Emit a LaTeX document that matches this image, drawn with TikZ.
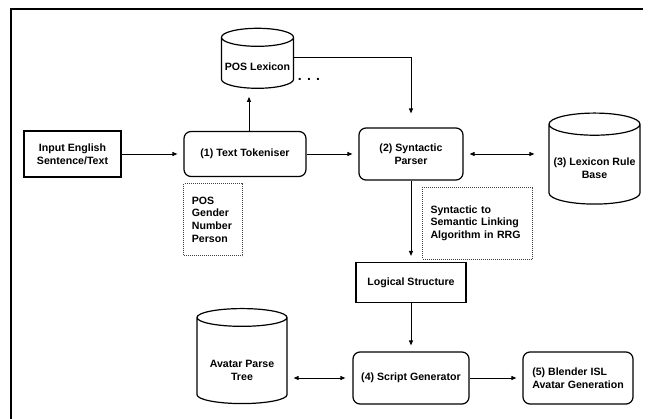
\documentclass[tikz,border=0pt]{standalone}
\usepackage{fontspec}
\setmainfont{Liberation Sans}
\usetikzlibrary{arrows.meta, positioning, shapes.geometric}

% text of a cylinder, set lower than its centre
\newcommand{\droptext}[2]{\raisebox{-#1}[\height][\depth]{\begin{tabular}{@{}c@{}}#2\end{tabular}}}

\tikzset{
  every node/.style = {font = \bfseries\fontsize{10.6}{12.6}\selectfont, text = black},
  block/.style = {draw, line width = 1.2pt, align = center, inner sep = 2pt},
  proc/.style = {block, rounded corners = 7pt},
  store/.style = {cylinder, shape border rotate = 90, aspect = 0.25, draw, line width = 1.2pt},
  note/.style = {draw = black!75, densely dotted, line width = 1pt, align = left, anchor = north west, inner ysep = 0pt, inner xsep = 8pt},
  into/.style = {<-, shorten <= 6pt},
}

\begin{document}
\begin{tikzpicture}[x = 1pt, y = 1pt, line width = 0.9pt, >={Triangle[length = 5pt, width = 4pt]}]
    \useasboundingbox (0,0) rectangle (653,-419);
    \draw [line width = 2pt] (11,-419) -- (11,-9) -- (643,-9);

    \node (input) [block, minimum width = 97pt, minimum height = 46pt] at (72.5,-154) {Input English\\Sentence/Text};
    \node (token) [proc, node distance = 172.5pt, right of = input, minimum width = 122pt, minimum height = 45pt] {(1) Text Tokeniser} edge [into] (input);
    \node (parser) [proc, node distance = 166pt, right of = token, minimum width = 104pt, minimum height = 52pt] {(2) Syntactic\\Parser} edge [into] (token);
    \node (lexbase) [store, node distance = 183.5pt, right of = parser, yshift = -12.5pt, minimum width = 91pt, minimum height = 91pt] {\droptext{3pt}{(3) Lexicon Rule\\Base}};
    \draw [<->, shorten <= 6pt, shorten >= 14pt] (parser.east) -- (parser.east -| lexbase.west);

    \node (poslex) [store, node distance = 89pt, above of = token, xshift = 12.5pt, minimum width = 71pt, minimum height = 60pt] {\droptext{3pt}{POS Lexicon}};
    \draw [->, shorten >= 8pt] ([xshift = 4pt]token.north) -- ([xshift = 4pt]token.north |- poslex.south);
    \node (dots) [right = 0pt of poslex, yshift = -14pt, font = \bfseries\fontsize{14}{14}\selectfont] {. . .};
    \draw [->, shorten >= 14pt] ([yshift = 8pt]poslex.east) -| (parser.north);

    \node (posbox) [note, text width = 43pt, minimum height = 72pt] at ([yshift = -6pt]token.south west) {POS\\Gender\\Number\\Person};
    \node (syndot) [note, text width = 94pt, minimum height = 72pt] at ([xshift = 11pt, yshift = -6pt]parser.south) {Syntactic to\\Semantic Linking\\Algorithm in RRG};

    \node (logical) [block, node distance = 128.5pt, below of = parser, minimum width = 110pt, minimum height = 40pt] {Logical Structure} edge [into] (parser);
    \node (script) [proc, node distance = 95.5pt, below of = logical, minimum width = 116pt, minimum height = 52pt] {(4) Script Generator} edge [into] (logical);
    \node (avatar) [store, node distance = 169pt, left of = script, yshift = 15.5pt, minimum width = 90pt, minimum height = 95pt] {\droptext{9pt}{Avatar Parse\\Tree}};
    \draw [<->, shorten <= 6pt, shorten >= 7pt] (avatar.east |- script) -- (script.west);
    \node (blender) [proc, node distance = 167pt, right of = script, minimum width = 110pt, minimum height = 52pt, align = left] {(5) Blender ISL\\Avatar Generation} edge [into] (script);
\end{tikzpicture}
\end{document}
